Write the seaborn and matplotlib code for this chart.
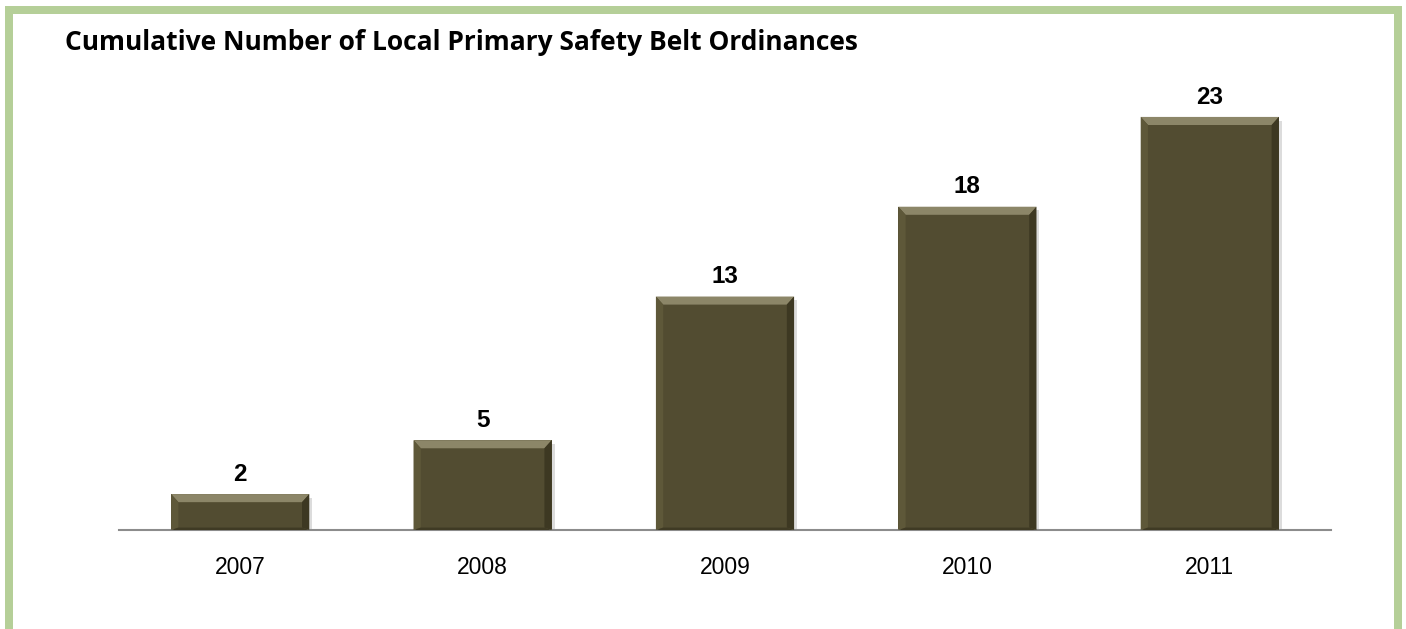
import matplotlib
matplotlib.use("Agg")
import matplotlib.pyplot as plt
import seaborn as sns
import pandas as pd
from matplotlib.patches import Polygon, Rectangle

years = ["2007", "2008", "2009", "2010", "2011"]
counts = [2, 5, 13, 18, 23]
title = "Cumulative Number of Local Primary Safety Belt Ordinances"

sns.set_theme(style="white")
plt.rcParams['font.family'] = ['Liberation Sans', 'DejaVu Sans']

W, H = 1406, 629
fig = plt.figure(figsize=(W / 100, H / 100), dpi=100)
fig.patch.set_facecolor("white")

# green frame (top, left, right)
green = "#B5CF98"
fig.add_artist(Rectangle((5 / W, 1 - 14 / H), (1402 - 5) / W, 8 / H, transform=fig.transFigure, color=green, lw=0))
fig.add_artist(Rectangle((5 / W, 0), 8 / W, 1 - 6 / H, transform=fig.transFigure, color=green, lw=0))
fig.add_artist(Rectangle((1394 / W, 0), 8 / W, 1 - 6 / H, transform=fig.transFigure, color=green, lw=0))

ax_left, ax_right = 119 / W, 1331 / W
ax_bottom = (H - 530) / H
ymax = 25
px_per_unit = 17.96
ax_top = (H - (530 - ymax * px_per_unit)) / H
ax = fig.add_axes([ax_left, ax_bottom, ax_right - ax_left, ax_top - ax_bottom])

df = pd.DataFrame({"year": years, "count": counts})
sns.barplot(data=df, x="year", y="count", ax=ax, color="#524C31", saturation=1, width=0.57, linewidth=0)

ax.set_ylim(0, ymax)
ax.set_xlim(-0.5, len(years) - 0.5)
for s in ["top", "left", "right"]:
    ax.spines[s].set_visible(False)
ax.spines["bottom"].set_color("#8C8C8C")
ax.spines["bottom"].set_linewidth(1.5)
ax.set_yticks([])
ax.set_xlabel("")
ax.set_ylabel("")
ax.tick_params(axis="x", length=0, pad=19, labelsize=16.5, labelcolor="#000000")

# bevel effect derived from bar geometry
bev_x = 0.03  # in data units (x)
bev_y = 0.45  # in data units (y)
for bar in ax.patches:
    x0 = bar.get_x(); w = bar.get_width(); h = bar.get_height()
    x1 = x0 + w
    # shadow
    ax.add_patch(Rectangle((x1, 0), 0.012, h - 0.2, color="#dcdcdc", lw=0, zorder=1))
    # top highlight
    ax.add_patch(Polygon([(x0, h), (x1, h), (x1 - bev_x, h - bev_y), (x0 + bev_x, h - bev_y)],
                         closed=True, color="#8C8668", lw=0, zorder=3))
    # left edge
    ax.add_patch(Polygon([(x0, h), (x0 + bev_x, h - bev_y), (x0 + bev_x, bev_y * 0.3), (x0, 0)],
                         closed=True, color="#5E5839", lw=0, zorder=3))
    # right shade
    ax.add_patch(Polygon([(x1, h), (x1 - bev_x, h - bev_y), (x1 - bev_x, bev_y * 0.3), (x1, 0)],
                         closed=True, color="#3D3822", lw=0, zorder=3))
    # bottom shade
    ax.add_patch(Polygon([(x0, 0), (x1, 0), (x1 - bev_x, bev_y * 0.3), (x0 + bev_x, bev_y * 0.3)],
                         closed=True, color="#3F3A24", lw=0, zorder=3))
    ax.annotate(f"{int(h)}", (x0 + w / 2, h), xytext=(0, 6), textcoords="offset points",
                ha="center", va="bottom", fontsize=17.5, fontweight="bold", color="#000000")

fig.text(65 / W, 1 - 50 / H, title, fontsize=19, fontweight="bold",
         family=["Open Sans", "DejaVu Sans"], ha="left", va="baseline", color="#000000")

fig.savefig("out.png", dpi=100, facecolor="white")
